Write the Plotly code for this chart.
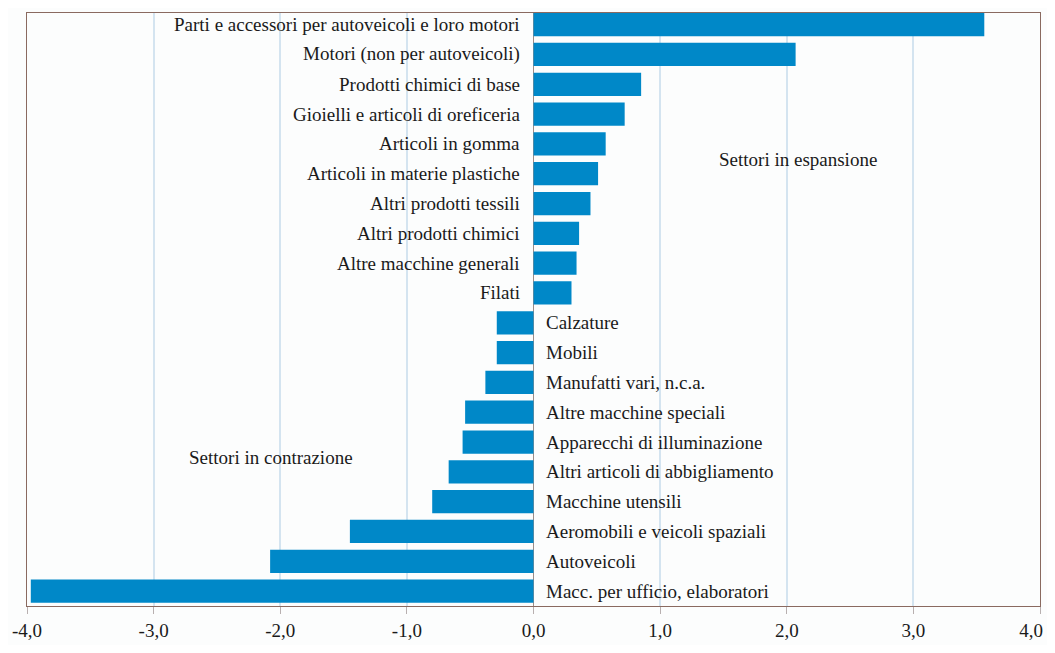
import plotly.graph_objects as go

categories = [
    "Parti e accessori per autoveicoli e loro motori",
    "Motori (non per autoveicoli)",
    "Prodotti chimici di base",
    "Gioielli e articoli di oreficeria",
    "Articoli in gomma",
    "Articoli in materie plastiche",
    "Altri prodotti tessili",
    "Altri prodotti chimici",
    "Altre macchine generali",
    "Filati",
    "Calzature",
    "Mobili",
    "Manufatti vari, n.c.a.",
    "Altre macchine speciali",
    "Apparecchi di illuminazione",
    "Altri articoli di abbigliamento",
    "Macchine utensili",
    "Aeromobili e veicoli spaziali",
    "Autoveicoli",
    "Macc. per ufficio, elaboratori",
]
values = [3.56, 2.07, 0.85, 0.72, 0.57, 0.51, 0.45, 0.36, 0.34, 0.30,
          -0.29, -0.29, -0.38, -0.54, -0.56, -0.67, -0.80, -1.45, -2.08, -3.97]

tick_vals = [-4, -3, -2, -1, 0, 1, 2, 3, 4]
tick_text = ["-4,0", "-3,0", "-2,0", "-1,0", "0,0", "1,0", "2,0", "3,0", "4,0"]

region_labels = ["Settori in espansione", "Settori in contrazione"]
region_x = [2.09, -2.07]
region_y = [0.753, 0.25]

FONT = "Liberation Serif"
BAR = "#0088c8"
TXT = "#1a1a1a"
FS = 19

fig = go.Figure()
fig.add_trace(go.Bar(
    y=categories, x=values, orientation="h",
    marker=dict(color=BAR, line=dict(width=0)),
    hoverinfo="x+y",
))
# invisible helper so the overlaid axis (last tick label) is drawn
fig.add_trace(go.Scatter(
    x=[tick_vals[-1]], y=[categories[-1]], xaxis="x2", mode="markers",
    marker=dict(opacity=0), hoverinfo="skip", showlegend=False,
))

annotations = []
for c, v in zip(categories, values):
    if v >= 0:
        annotations.append(dict(x=0, y=c, xref="x", yref="y", text=c,
                                showarrow=False, xanchor="right", xshift=-12,
                                font=dict(family=FONT, size=FS, color=TXT)))
    else:
        annotations.append(dict(x=0, y=c, xref="x", yref="y", text=c,
                                showarrow=False, xanchor="left", xshift=10,
                                font=dict(family=FONT, size=FS, color=TXT)))
for t, x, y in zip(region_labels, region_x, region_y):
    annotations.append(dict(x=x, y=y, xref="x", yref="paper", text=t,
                            showarrow=False, xanchor="center", yanchor="middle",
                            font=dict(family=FONT, size=FS, color=TXT)))

fig.update_layout(
    width=1039, height=637,
    margin=dict(l=17, r=5, t=4, b=33),
    paper_bgcolor="#fcfdfd",
    plot_bgcolor="#fcfdfd",
    bargap=0.22,
    showlegend=False,
    annotations=annotations,
    xaxis=dict(
        range=[-4, 4], tickvals=tick_vals, ticktext=tick_text[:-1] + [""],
        showgrid=True, gridcolor="#d4e4f0", gridwidth=1.5,
        zeroline=True, zerolinecolor="#9a8c88", zerolinewidth=1,
        showline=True, linecolor="#8a6a60", linewidth=1, mirror=True,
        ticks="outside", ticklen=7, tickcolor="#b8b0b0",
        tickfont=dict(family=FONT, size=FS, color=TXT),
        fixedrange=True,
    ),
    xaxis2=dict(
        overlaying="x", anchor="y", side="bottom", matches="x",
        tickvals=tick_vals[-1:], ticktext=tick_text[-1:],
        showgrid=False, zeroline=False, showline=False,
        ticks="outside", ticklen=7, tickcolor="rgba(0,0,0,0)",
        ticklabelshift=-9,
        tickfont=dict(family=FONT, size=FS, color=TXT),
        fixedrange=True,
    ),
    yaxis=dict(
        categoryorder="array", categoryarray=categories,
        range=[19.5, -0.39], showticklabels=False, ticks="",
        showgrid=False, showline=True, linecolor="#8a6a60", linewidth=1,
        mirror=True, fixedrange=True,
    ),
)

fig.write_html("out.html", config={"displayModeBar": False})
